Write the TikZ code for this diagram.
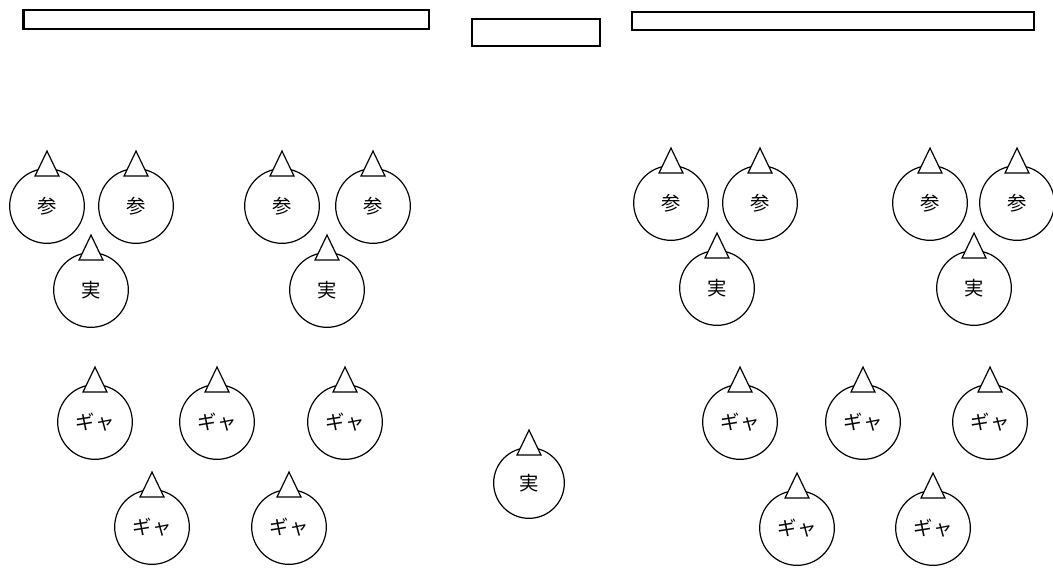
\documentclass[tikz,border=0pt]{standalone}
\usepackage{fontspec}
\newfontfamily\jpfont{Noto Sans CJK JP}
\usetikzlibrary{calc}

\begin{document}
\begin{tikzpicture}[
    x=0.75pt, y=-0.75pt,
    every node/.style={font=\jpfont\fontsize{14.5}{16}\selectfont},
    seat/.style={draw,circle,minimum size=56pt,inner sep=0pt,line width=0.9pt},
    tri/.style={draw,fill=white,line width=0.9pt,line join=miter},
    bar/.style={draw,line width=1.2pt}
]
\useasboundingbox (0,0) rectangle (1053,569);

% Tables at the front
\draw[bar] (23,10) rectangle (429,29);
\draw[bar,line width=1.1pt] (472,19) rectangle (600,46);
\draw[bar] (632,12) rectangle (1034,30);
\draw[line width=2pt] (24,11) -- (24,28);

% Left side, first group
\node[seat] (sA1) at (47,206) {参};
\node[seat] (sA2) at (136,206) {参};
\node[seat] (jA) at (91,290) {実};

% Left side, second group
\node[seat] (sB1) at (282,206) {参};
\node[seat] (sB2) at (373,206) {参};
\node[seat] (jB) at (327,290) {実};

% Right side, first group
\node[seat] (sC1) at (671,203) {参};
\node[seat] (sC2) at (760,203) {参};
\node[seat] (jC) at (717,288) {実};

% Right side, second group
\node[seat] (sD1) at (930,203) {参};
\node[seat] (sD2) at (1017,203) {参};
\node[seat] (jD) at (974,288) {実};

% Gallery, left
\node[seat] (gL1) at (95,422) {ギャ};
\node[seat] (gL2) at (217,422) {ギャ};
\node[seat] (gL3) at (345,422) {ギャ};
\node[seat] (gL4) at (152,527) {ギャ};
\node[seat] (gL5) at (289,527) {ギャ};

% Gallery, right
\node[seat] (gR1) at (740,422) {ギャ};
\node[seat] (gR2) at (863,422) {ギャ};
\node[seat] (gR3) at (990,422) {ギャ};
\node[seat] (gR4) at (797,528) {ギャ};
\node[seat] (gR5) at (933,528) {ギャ};

% Centre
\node[seat,minimum size=53pt] (jM) at (529,483) {実};

% Facing marks
\foreach \n in {sA1,sA2,jA,sB1,sB2,jB,sC1,sC2,jC,sD1,sD2,jD,
                gL1,gL2,gL3,gL4,gL5,gR1,gR2,gR3,gR4,gR5,jM}
  \draw[tri] ($(\n.north)+(-12,8)$) -- ($(\n.north)+(12,8)$)
             -- ($(\n.north)+(0,-17)$) -- cycle;

\end{tikzpicture}
\end{document}
